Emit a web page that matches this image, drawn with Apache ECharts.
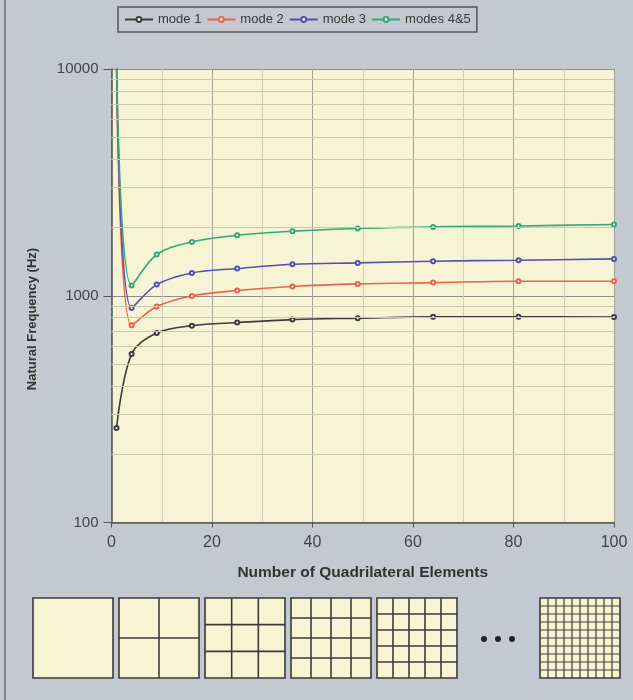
<!DOCTYPE html>
<html>
<head>
<meta charset="utf-8">
<script src="https://cdn.jsdelivr.net/npm/echarts@6/dist/echarts.min.js"></script>
<style>
  html, body { margin: 0; padding: 0; background: #c4c8d0; }
  #chart { width: 633px; height: 700px; }
</style>
</head>
<body>
<div id="chart"></div>
<script>
// number of quadrilateral elements (1x1, 2x2, ... 10x10 meshes)
var elements = [1, 4, 9, 16, 25, 36, 49, 64, 81, 100];
var mode1 = [261, 553, 685, 738, 762, 785, 796, 807, 807, 805];
var mode2 = [10300, 741, 896, 998, 1054, 1099, 1128, 1143, 1159, 1159];
var mode3 = [10500, 883, 1120, 1261, 1318, 1377, 1396, 1420, 1435, 1454];
var mode45 = [11000, 1110, 1520, 1728, 1849, 1927, 1981, 2012, 2032, 2061];
var seriesNames = ['mode 1', 'mode 2', 'mode 3', 'modes 4&5'];
var seriesColors = ['#3c3c3c', '#f0604c', '#5250b0', '#35a878'];
// minor log grid lines
var yMinor = [200, 300, 400, 500, 600, 700, 800, 900, 2000, 3000, 4000, 5000, 6000, 7000, 8000, 9000];
// mesh sketches under the axis (divisions per side)
var meshSizes = [1, 2, 3, 4, 5, 10];

var FONT = '"Liberation Sans", Arial, sans-serif';

function pairs(vals) {
    var out = [];
    for (var i = 0; i < elements.length; i++) {
        out.push([elements[i], vals[i]]);
    }
    return out;
}

function mkSeries(name, vals, color) {
    return {
        name: name,
        type: 'line',
        data: pairs(vals),
        smooth: 0.35,
        clip: true,
        symbol: 'emptyCircle',
        symbolSize: 4,
        showAllSymbol: true,
        lineStyle: { color: color, width: 1.6 },
        itemStyle: { color: color, borderWidth: 1 },
        z: 3
    };
}

// build the little mesh pictures
function meshGraphics() {
    var g = [];
    var size = 80, top = 598;
    var lefts = [];
    for (var i = 0; i < meshSizes.length - 1; i++) lefts.push(33 + i * 86);
    lefts.push(540);
    meshSizes.forEach(function(n, k) {
        var x0 = lefts[k];
        var lw = n >= 10 ? 1.2 : 1.6;
        g.push({
            type: 'rect',
            shape: { x: x0, y: top, width: size, height: size },
            style: { fill: '#f7f4d3', stroke: '#3a3a3a', lineWidth: 1.6 }
        });
        for (var j = 1; j < n; j++) {
            var d = size * j / n;
            g.push({
                type: 'line',
                shape: { x1: x0 + d, y1: top, x2: x0 + d, y2: top + size },
                style: { stroke: '#3a3a3a', lineWidth: lw }
            });
            g.push({
                type: 'line',
                shape: { x1: x0, y1: top + d, x2: x0 + size, y2: top + d },
                style: { stroke: '#3a3a3a', lineWidth: lw }
            });
        }
    });
    // the "..." between the 5x5 and 10x10 mesh
    [484, 498, 512].forEach(function(cx) {
        g.push({
            type: 'circle',
            shape: { cx: cx, cy: 639, r: 3 },
            style: { fill: '#222' }
        });
    });
    // y axis title (sits a bit below the middle of the axis)
    g.push({
        type: 'text',
        x: 32,
        y: 319,
        rotation: Math.PI / 2,
        style: {
            text: 'Natural Frequency (Hz)',
            align: 'center',
            verticalAlign: 'middle',
            fontFamily: FONT,
            fontSize: 13,
            fontWeight: 'bold',
            fill: '#333'
        }
    });
    // chart area border on the left
    g.push({
        type: 'line',
        shape: { x1: 5, y1: 0, x2: 5, y2: 700 },
        style: { stroke: '#707070', lineWidth: 1.5 }
    });
    return g;
}

var chart = echarts.init(document.getElementById('chart'));
var series = [
    mkSeries(seriesNames[0], mode1, seriesColors[0]),
    mkSeries(seriesNames[1], mode2, seriesColors[1]),
    mkSeries(seriesNames[2], mode3, seriesColors[2]),
    mkSeries(seriesNames[3], mode45, seriesColors[3])
];
// minor horizontal grid lines of the log axis
series.push({
    type: 'line',
    data: [],
    silent: true,
    z: 1,
    markLine: {
        silent: true,
        symbol: ['none', 'none'],
        label: { show: false },
        lineStyle: { color: '#cac7b0', width: 1, type: 'solid' },
        data: yMinor.map(function(v) { return { yAxis: v }; })
    }
});

chart.setOption({
    backgroundColor: '#c4c8d0',
    animation: false,
    color: seriesColors,
    legend: {
        data: seriesNames,
        left: 118,
        top: 7,
        itemWidth: 28,
        itemHeight: 6,
        itemGap: 5,
        padding: [6, 6, 6, 6],
        borderColor: '#555',
        borderWidth: 1.5,
        textStyle: { fontFamily: FONT, fontSize: 13, color: '#3a3a3a' }
    },
    grid: {
        left: 111.5,
        right: 19,
        top: 69,
        bottom: 177.5,
        show: true,
        backgroundColor: '#f6f4d4',
        borderWidth: 0
    },
    xAxis: {
        type: 'value',
        min: 0,
        max: 100,
        interval: 20,
        name: 'Number of Quadrilateral Elements',
        nameLocation: 'middle',
        nameGap: 42,
        nameTextStyle: { fontFamily: FONT, fontSize: 15.5, fontWeight: 'bold', color: '#333' },
        axisLine: { lineStyle: { color: '#555', width: 1.5 } },
        axisTick: { show: true, length: 5, lineStyle: { color: '#555' } },
        axisLabel: { fontFamily: FONT, fontSize: 16, color: '#444', margin: 12 },
        splitLine: { show: true, lineStyle: { color: '#a2a29a', width: 1 } },
        minorTick: { show: false, splitNumber: 2 },
        minorSplitLine: { show: true, lineStyle: { color: '#d2d0bc', width: 1 } }
    },
    yAxis: {
        type: 'log',
        logBase: 10,
        min: 100,
        max: 10000,
        axisLine: { show: true, lineStyle: { color: '#555', width: 1.5 } },
        axisTick: { show: true, length: 8, lineStyle: { color: '#555' } },
        axisLabel: {
            fontFamily: FONT, fontSize: 15, color: '#444', margin: 13,
            formatter: function(v) { return String(Math.round(v)); }
        },
        splitLine: { show: true, lineStyle: { color: '#8f8f88', width: 1 } }
    },
    series: series,
    graphic: meshGraphics()
});
</script>
</body>
</html>
